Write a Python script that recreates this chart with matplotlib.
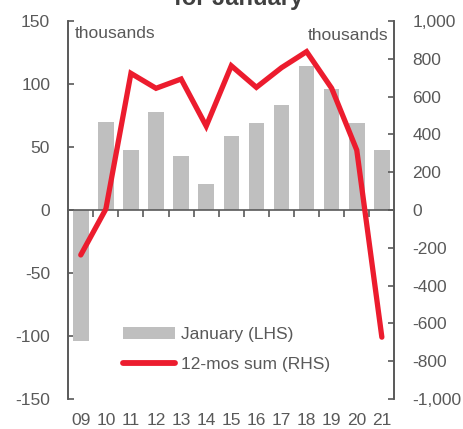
import matplotlib.pyplot as plt
from matplotlib.ticker import FuncFormatter

plt.rcParams["font.family"] = ["Liberation Sans", "DejaVu Sans"]
plt.rcParams["axes.unicode_minus"] = False

years = ["09", "10", "11", "12", "13", "14", "15", "16", "17", "18", "19", "20", "21"]
january = [-104, 70, 48, 78, 43, 21, 59, 69, 83, 114, 96, 69, 48]
sum_12m = [-238, 5, 723, 644, 693, 444, 763, 649, 753, 838, 644, 317, -673]

GREY_TXT = "#595959"
BAR_COL = "#BFBFBF"
LINE_COL = "#EC1C2E"
FS = 12.5

fig = plt.figure(figsize=(4.64, 4.29), dpi=100)
ax = fig.add_axes([0.147, 0.070, 0.703, 0.881])
ax2 = ax.twinx()

x = list(range(len(years)))
bars = ax.bar(x, january, width=0.62, color=BAR_COL, label="January (LHS)", zorder=2)
line, = ax2.plot(x, sum_12m, color=LINE_COL, linewidth=3.8,
                 solid_capstyle="round", solid_joinstyle="miter",
                 label="12-mos sum (RHS)", zorder=3)

ax.set_xlim(-0.5, len(years) - 0.5)
ax.set_ylim(-150, 150)
ax.set_yticks(range(-150, 151, 50))
ax2.set_ylim(-1000, 1000)
ax2.set_yticks(range(-1000, 1001, 200))
ax2.yaxis.set_major_formatter(FuncFormatter(lambda v, p: f"{int(v):,}"))

# x axis sits on zero, ticks between the bars
for a in (ax, ax2):
    a.spines["top"].set_visible(False)
    for s in a.spines.values():
        s.set_color(GREY_TXT)
        s.set_linewidth(1.2)
ax.spines["bottom"].set_position(("data", 0))
ax2.spines["bottom"].set_visible(False)
ax.set_xticks([i + 0.5 for i in x[:-1]])
ax.set_xticklabels([])
ax.tick_params(axis="x", direction="out", length=5, width=1.2, color=GREY_TXT)
for i, lab in enumerate(years):
    ax.text(i, -0.036, lab, transform=ax.get_xaxis_transform(),
            ha="center", va="top", fontsize=FS, color=GREY_TXT)

ax.tick_params(axis="y", direction="in", length=4, width=1.2, color=GREY_TXT,
               labelcolor=GREY_TXT, labelsize=FS, pad=13)
ax2.tick_params(axis="y", direction="in", length=4, width=1.2, color=GREY_TXT,
                labelcolor=GREY_TXT, labelsize=FS, pad=13)

ax.text(0.02, 0.987, "thousands", transform=ax.transAxes, ha="left", va="top",
        fontsize=FS, color=GREY_TXT)
ax.text(0.981, 0.981, "thousands", transform=ax.transAxes, ha="right", va="top",
        fontsize=FS, color=GREY_TXT)

leg = ax2.legend([bars, line], ["January (LHS)", "12-mos sum (RHS)"],
                 loc="center left", bbox_to_anchor=(0.12, 0.132), frameon=False,
                 fontsize=FS, labelcolor=GREY_TXT, handlelength=3.0,
                 handletextpad=0.35, labelspacing=0.85)
leg.get_lines()[0].set_linewidth(4.2)

fig.text(0.515, 1 - 5 / 429, "for January", ha="center", va="baseline",
         fontsize=17, fontweight="bold", color="#404040")

fig.savefig("out.png", dpi=100)
